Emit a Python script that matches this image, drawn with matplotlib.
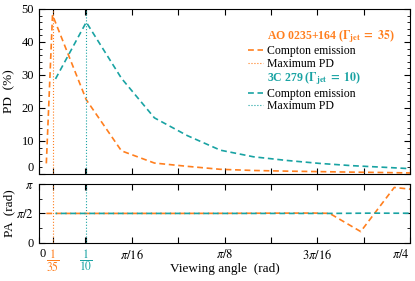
import numpy as np
import matplotlib
matplotlib.use("Agg")
import matplotlib.pyplot as plt
from matplotlib.lines import Line2D

plt.rcParams["font.family"] = "serif"
plt.rcParams["font.serif"] = ["Liberation Serif", "DejaVu Serif"]
plt.rcParams["mathtext.fontset"] = "stix"

orange = "#ff7f1e"
teal = "#19a3a3"

# AO 0235+164 (Gamma_jet = 35)
ao_angle = [0.0155, 1/35, 0.1, 0.1745, 0.2443, 0.3142, 0.3840, 0.4538, 0.5236, 0.5934, 0.6632, 0.7330, 0.7854]
ao_pd = [3.2, 48.2, 22.5, 7.0, 3.3, 2.3, 1.4, 1.05, 0.85, 0.7, 0.55, 0.42, 0.3]
ao_pa_angle = [0.0155, 0.10, 0.20, 0.30, 0.40, 0.50, 0.58, 0.615, 0.681, 0.752, 0.7854]
ao_pa = [1.571, 1.571, 1.571, 1.571, 1.575, 1.585, 1.59, 1.575, 0.60, 2.96, 2.87]

# 3C 279 (Gamma_jet = 10)
c3_angle = [0.0349, 0.1, 0.1745, 0.2443, 0.3142, 0.3840, 0.4538, 0.5236, 0.5934, 0.6632, 0.7330, 0.7854]
c3_pd = [28.8, 46.0, 29.0, 17.0, 11.6, 7.2, 5.2, 4.1, 3.2, 2.5, 2.0, 1.6]
c3_pa_angle = [0.0349, 0.1, 0.3, 0.5, 0.615, 0.70, 0.7854]
c3_pa = [1.571, 1.571, 1.571, 1.571, 1.571, 1.585, 1.58]

max_pd = {"ao": 1/35, "c3": 1/10}

fig = plt.figure(figsize=(4.15, 2.81), dpi=100)
ax1 = fig.add_axes([0.094, 0.381, 0.894, 0.587])
ax2 = fig.add_axes([0.094, 0.136, 0.894, 0.209], sharex=ax1)

dash = (0, (3.5, 2.2))
ax1.plot(ao_angle, ao_pd, color=orange, ls=dash, lw=1.2)
ax1.plot(c3_angle, c3_pd, color=teal, ls=dash, lw=1.2)
ax2.plot(ao_pa_angle, ao_pa, color=orange, ls=dash, lw=1.2)
ax2.plot(c3_pa_angle, c3_pa, color=teal, ls=(2.5, (3.5, 2.2)), lw=1.2)

for ax in (ax1, ax2):
    ax.axvline(max_pd["ao"], color=orange, ls=":", lw=0.8)
    ax.axvline(max_pd["c3"], color=teal, ls=":", lw=0.8)
    ax.tick_params(direction="in", which="both", top=True, right=True, labelsize=9)
    ax.tick_params(which="major", length=4)
    ax.tick_params(which="minor", length=2.2)

ax1.set_xlim(0, np.pi / 4)
ax1.set_ylim(0, 50)
ax1.set_yticks(np.arange(0, 51, 10))
ax1.set_yticks(np.arange(0, 51, 2), minor=True)
ax1.set_ylabel("PD  (%)", fontsize=9.5)
plt.setp(ax1.get_xticklabels(), visible=False)
ax1.get_yticklabels()[0].set_verticalalignment("bottom")

xt = [0, 1/35, 1/10, np.pi/32 * 1.0001, np.pi/16, 3*np.pi/32, np.pi/8, 5*np.pi/32,
      3*np.pi/16, 7*np.pi/32, np.pi/4]
xl = ["0", r"$\dfrac{1}{35}$", r"$\dfrac{1}{10}$", "", r"$\pi/16$", "", r"$\pi/8$", "",
      r"$3\pi/16$", "", r"$\pi/4$"]
ax2.set_xticks(xt)
ax2.set_xticklabels(xl)
labs = ax2.get_xticklabels()
labs[0].set_horizontalalignment("left")
labs[1].set_color(orange)
labs[2].set_color(teal)
labs[1].set_fontsize(8.5)
labs[2].set_fontsize(8.5)
labs[-1].set_horizontalalignment("right")

ax2.set_ylim(0, np.pi)
ax2.set_yticks([0, np.pi/2, np.pi])
ax2.set_yticklabels(["0", r"$\pi/2$", r"$\pi$"])
ax2.set_yticks([np.pi/4, 3*np.pi/4], minor=True)
ax2.set_ylabel("PA  (rad)", fontsize=9.5)
ax2.set_xlabel("Viewing angle  (rad)", fontsize=9.5)
ax2.xaxis.set_label_coords(0.5, -0.34)

ax1.yaxis.set_label_coords(-0.065, 0.5)
ax2.yaxis.set_label_coords(-0.065, 0.5)

handles = [Line2D([], [], ls="none"),
           Line2D([], [], color=orange, ls=dash, lw=1.2),
           Line2D([], [], color=orange, ls=":", lw=0.8),
           Line2D([], [], ls="none"),
           Line2D([], [], color=teal, ls=dash, lw=1.2),
           Line2D([], [], color=teal, ls=":", lw=0.8)]
labels = [r"AO 0235+164 ($\mathbf{\Gamma_{jet}\ =\ 35}$)", "Compton emission", "Maximum PD",
          r"3C 279 ($\mathbf{\Gamma_{jet}\ =\ 10}$)", "Compton emission", "Maximum PD"]
leg = ax1.legend(handles, labels, loc="upper right", bbox_to_anchor=(0.975, 0.92),
                 frameon=False, fontsize=8.5, handlelength=1.3, handletextpad=0.35,
                 labelspacing=0.05, borderpad=0)
texts = leg.get_texts()
for i, c in ((0, orange), (3, teal)):
    texts[i].set_color(c)
    texts[i].set_fontweight("bold")

fig.savefig("out.png", dpi=100)
